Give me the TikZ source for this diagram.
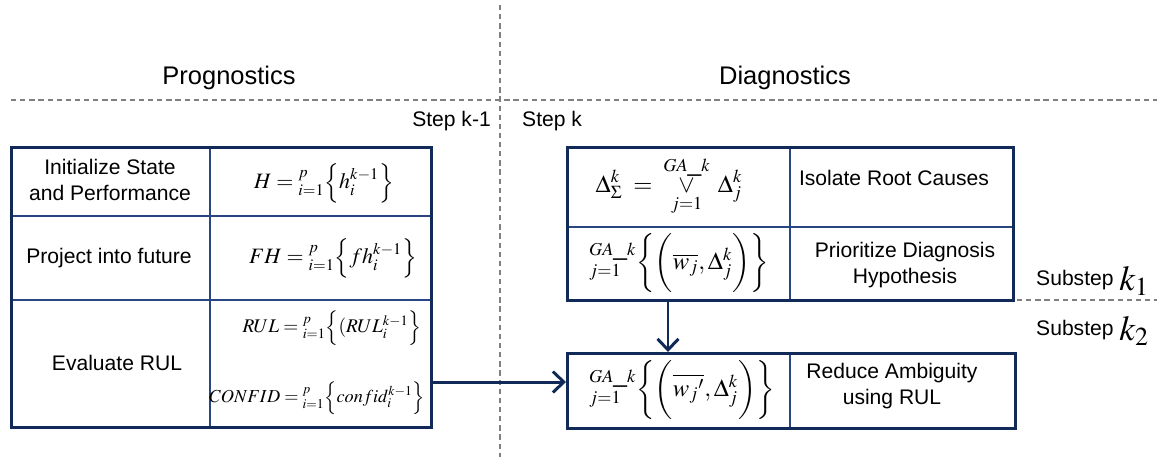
\documentclass[tikz,border=0pt]{standalone}
\usepackage{mathptmx}
\usepackage{fontspec}
\setmainfont{Liberation Sans}
\usetikzlibrary{arrows.meta}
\definecolor{navy}{RGB}{18,42,88}
\definecolor{navyl}{RGB}{40,70,130}

\begin{document}
\begin{tikzpicture}[x=0.02cm,y=-0.02cm,
  box/.style={draw=navy,line width=1.7pt,inner sep=0pt,anchor=north west},
  cell/.style={draw=navyl,line width=0.6pt},
  lbl/.style={font=\fontsize{12}{14.5}\selectfont,align=center},
  hdr/.style={font=\fontsize{14.5}{17}\selectfont},
  fml/.style={font=\fontsize{12.5}{15}\selectfont},
  fmlb/.style={font=\fontsize{14}{16}\selectfont},
  sep/.style={draw=gray,line width=0.9pt,dash pattern=on 3pt off 2.2pt},
  flow/.style={draw=navy,line width=1.7pt,-{Straight Barb[length=2.2mm,width=4.2mm,line width=1.7pt]}}]
\useasboundingbox (0,0) rectangle (1157,457);
% dashed separators
\draw[sep] (500,5) -- (500,457);
\draw[sep] (11,100) -- (1157,100);
\draw[sep] (1017,300) -- (1157,300);
\node[hdr] (tprog) at (229,78) {Prognostics};
\node[hdr] (tdiag) at (785,78) {Diagnostics};
\node[lbl,anchor=east] (stepa) at (497,121) {Step k-1};
\node[lbl,anchor=west] (stepb) at (516,121) {Step k};
% cell rules
\draw[cell] (210,146) -- (210,426);
\draw[cell] (10,216) -- (430,216);
\draw[cell] (10,300) -- (430,300);
\draw[cell] (790,146) -- (790,299);
\draw[cell] (566,227) -- (1012,227);
\draw[cell] (790,352) -- (790,427);
% boxes
\node[box,minimum width=8.4cm,minimum height=5.6cm] (prog) at (10,146) {};
\node[box,minimum width=8.92cm,minimum height=3.06cm] (iso) at (566,146) {};
\node[box,minimum width=8.96cm,minimum height=1.5cm] (red) at (566,352) {};
% prognostics cells
\node[lbl] (init) at (110,180) {Initialize State\\and Performance};
\node[fml] (fh0) at (324,183) {$H=\mathop{}\nolimits_{i=1}^{p}\Bigl\{h_i^{k-1}\Bigr\}$};
\node[lbl] (proj) at (109,258) {Project into future};
\node[fml] (fh1) at (333,258) {$FH=\mathop{}\nolimits_{i=1}^{p}\Bigl\{fh_i^{k-1}\Bigr\}$};
\node[lbl] (eval) at (117,363) {Evaluate RUL};
\node[font=\fontsize{11}{13}\selectfont] (frul) at (332,328) {$RUL=\mathop{}\nolimits_{i=1}^{p}\Bigl\{(RUL_i^{k-1}\Bigr\}$};
\node[font=\fontsize{10.4}{12}\selectfont] (fconf) at (317,398) {$CONFID=\mathop{}\nolimits_{i=1}^{p}\Bigl\{confid_i^{k-1}\Bigr\}$};
% diagnostics cells
\node[fmlb] (fdel) at (669,186) {$\displaystyle\Delta_{\Sigma}^{k}\;=\;\mathop{\vee}\limits_{j=1}^{GA\_k}\;\Delta_j^k$};
\node[lbl] (isol) at (894,178) {Isolate Root Causes};
\node[fmlb] (fpri) at (679,263) {$\mathop{}\nolimits_{j=1}^{GA\_k}\biggl\{\biggl(\overline{w_j},\Delta_j^k\biggr)\biggr\}$};
\node[lbl] (prio) at (905,265) {Prioritize Diagnosis\\Hypothesis};
\node[fmlb] (fred) at (682,390) {$\mathop{}\nolimits_{j=1}^{GA\_k}\biggl\{\biggl(\overline{w_j{}'},\Delta_j^k\biggr)\biggr\}$};
\node[lbl] (redu) at (892,386) {Reduce Ambiguity\\using RUL};
\node[lbl,anchor=base west] (suba) at (1030,285) {Substep \raisebox{-0.25em}{\fontsize{20}{20}\selectfont$k_1$}};
\node[lbl,anchor=base west] (subb) at (1030,335) {Substep \raisebox{-0.25em}{\fontsize{20}{20}\selectfont$k_2$}};
% connectors
\coordinate (ra) at (566,382);
\coordinate (da) at (668,0);
\draw[flow] (prog.east |- ra) -- (ra);
\draw[flow] (iso.south -| da) -- (red.north -| da);
\end{tikzpicture}
\end{document}
